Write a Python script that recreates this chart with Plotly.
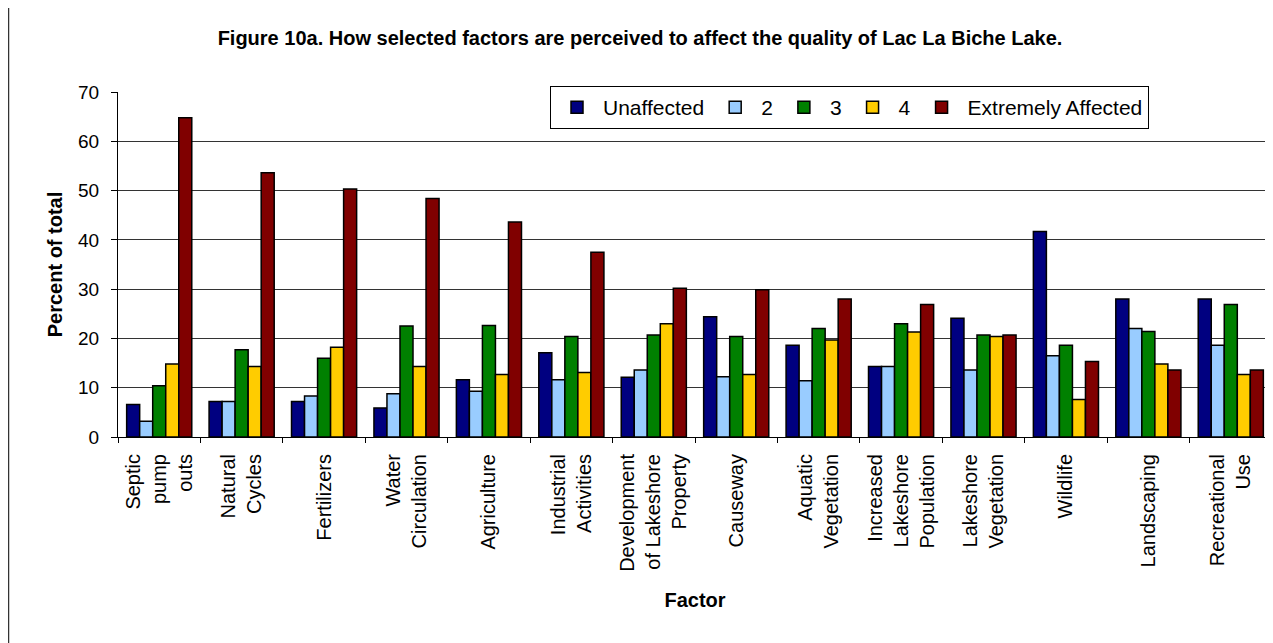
import plotly.graph_objects as go

# factors on the x axis (line breaks as in the original chart)
factors = [
    "Septic<br>pump<br>outs",
    "Natural<br>Cycles",
    "Fertilizers",
    "Water<br>Circulation",
    "Agriculture",
    "Industrial<br>Activities",
    "Development<br>of Lakeshore<br>Property",
    "Causeway",
    "Aquatic<br>Vegetation",
    "Increased<br>Lakeshore<br>Population",
    "Lakeshore<br>Vegetation",
    "Wildlife",
    "Landscaping",
    "Recreational<br>Use",
]

# percent of total for each rating
unaffected = [6.6, 7.2, 7.2, 5.9, 11.6, 17.1, 12.1, 24.4, 18.6, 14.3, 24.1, 41.7, 28.0, 28.0]
rating_2 = [3.2, 7.2, 8.3, 8.8, 9.3, 11.6, 13.6, 12.2, 11.4, 14.3, 13.6, 16.5, 22.0, 18.6]
rating_3 = [10.4, 17.7, 16.0, 22.5, 22.6, 20.4, 20.7, 20.4, 22.0, 23.0, 20.7, 18.6, 21.4, 26.9]
rating_4 = [14.8, 14.3, 18.2, 14.3, 12.7, 13.1, 23.0, 12.7, 19.7, 21.3, 20.4, 7.6, 14.8, 12.7]
extremely = [64.8, 53.6, 50.3, 48.4, 43.6, 37.5, 30.2, 29.9, 28.0, 26.9, 20.7, 15.3, 13.6, 13.6]

series_names = ["Unaffected", "2", "3", "4", "Extremely Affected"]
series_values = [unaffected, rating_2, rating_3, rating_4, extremely]
colors = ["#000080", "#99CCFF", "#008000", "#FFCC00", "#800000"]

FONT = "Liberation Sans, Arial, sans-serif"
# page body adds an 8px margin, so the figure is drawn 8px smaller and offset
OFF = 8
W, H = 1273 - OFF, 643 - OFF
L, R, T, B = 118 - OFF, 1, 92 - OFF, 643 - 437

fig = go.Figure()
for name, vals, col in zip(series_names, series_values, colors):
    fig.add_trace(go.Bar(
        x=factors, y=vals, name=name,
        marker=dict(color=col, line=dict(color="black", width=1.5)),
    ))

pw = W - L - R
ph = H - T - B

def px_x(x):
    return (x - OFF - L) / pw

def px_y(y):
    return (H - B - (y - OFF)) / ph

fig.update_layout(
    width=W, height=H,
    margin=dict(l=L, r=R, t=T, b=B),
    paper_bgcolor="white", plot_bgcolor="white",
    font=dict(family=FONT, color="black"),
    barmode="group", bargap=0.21, bargroupgap=0,
    title=dict(
        text="<b>Figure 10a. How selected factors are perceived to affect the quality of Lac La Biche Lake.</b>",
        font=dict(size=20), x=(640 - OFF) / W, xanchor="center", y=1 - (38 - OFF) / H, yanchor="middle",
    ),
    legend=dict(
        orientation="h", x=px_x(550), xanchor="left", y=px_y(86), yanchor="top",
        bgcolor="white", bordercolor="black", borderwidth=1,
        font=dict(size=21), itemwidth=42, traceorder="normal",
    ),
    xaxis=dict(
        type="category", tickangle=-90, tickfont=dict(size=20),
        ticks="outside", ticklen=5, tickcolor="black", tickson="boundaries",
        ticklabelstandoff=8,
        showline=True, linecolor="black", linewidth=1,
        title=dict(text="<b>Factor</b>", font=dict(size=20), standoff=22),
        automargin=False,
    ),
    yaxis=dict(
        range=[0, 70], dtick=10, tickfont=dict(size=19),
        ticks="outside", ticklen=6, tickcolor="black",
        ticklabelstandoff=8,
        showline=True, linecolor="black", linewidth=1,
        showgrid=True, gridcolor="#333333", gridwidth=1,
        title=dict(text="<b>Percent of total</b>", font=dict(size=20), standoff=10),
        automargin=False,
    ),
    shapes=[dict(
        type="rect", xref="paper", yref="paper",
        x0=px_x(8.5), x1=px_x(1271.5),
        y0=px_y(646), y1=px_y(7),
        line=dict(color="#333333", width=1.5), fillcolor="rgba(0,0,0,0)", layer="above",
    )],
)

fig.write_html("out.html")
